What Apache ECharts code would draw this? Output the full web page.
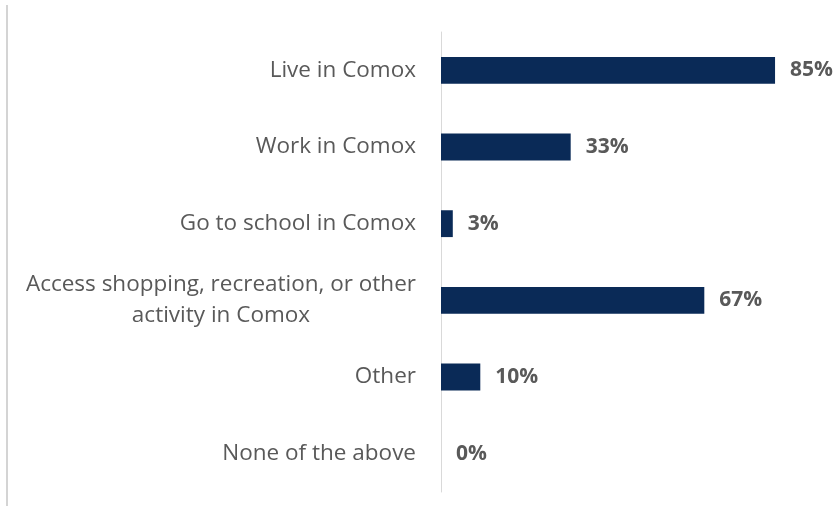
<!DOCTYPE html>
<html>
<head>
<meta charset="utf-8">
<script src="https://cdn.jsdelivr.net/npm/echarts@6/dist/echarts.min.js"></script>
<style>
  html, body { margin: 0; padding: 0; background: #ffffff; }
  #chart { width: 835px; height: 512px; }
</style>
</head>
<body>
<div id="chart"></div>
<script>
// Reasons for connection to Comox (% of respondents)
const categories = [
  'Live in Comox',
  'Work in Comox',
  'Go to school in Comox',
  'Access shopping, recreation, or other\nactivity in Comox',
  'Other',
  'None of the above'
];
const values = [85, 33, 3, 67, 10, 0];

const textColor = '#595959';
const barColor = '#0a2a57';
const fontFamily = '"Open Sans", sans-serif';

const chart = echarts.init(document.getElementById('chart'), null, { renderer: 'canvas' });

// Wrapped labels are centred line by line inside a right-aligned block
function categoryLabel(v) {
  return v.split('\n').map(s => '{c|' + s + '}').join('\n');
}

chart.setOption({
  animation: false,
  backgroundColor: '#ffffff',
  grid: { left: 441, right: 1, top: 32, bottom: 20, containLabel: false },
  xAxis: {
    type: 'value',
    min: 0,
    max: 100,
    show: false
  },
  yAxis: {
    type: 'category',
    inverse: true,
    data: categories,
    axisLine: { show: true, lineStyle: { color: '#d9d9d9', width: 1 } },
    axisTick: { show: false },
    splitLine: { show: false },
    axisLabel: {
      margin: 25,
      color: textColor,
      fontFamily: fontFamily,
      fontSize: 22.5,
      lineHeight: 31,
      formatter: categoryLabel,
      rich: {
        c: { align: 'center', color: textColor, fontFamily: fontFamily, fontSize: 22.5, lineHeight: 31 }
      }
    }
  },
  series: [{
    type: 'bar',
    data: values,
    barCategoryGap: '65%',
    itemStyle: { color: barColor },
    label: {
      show: true,
      position: 'right',
      distance: 15,
      formatter: p => p.value + '%',
      color: textColor,
      fontFamily: fontFamily,
      fontWeight: 'bold',
      fontSize: 21
    }
  }],
  graphic: [{
    type: 'line',
    shape: { x1: 7, y1: 5, x2: 7, y2: 506 },
    style: { stroke: '#d4d4d4', lineWidth: 2 },
    silent: true
  }]
});
</script>
</body>
</html>
